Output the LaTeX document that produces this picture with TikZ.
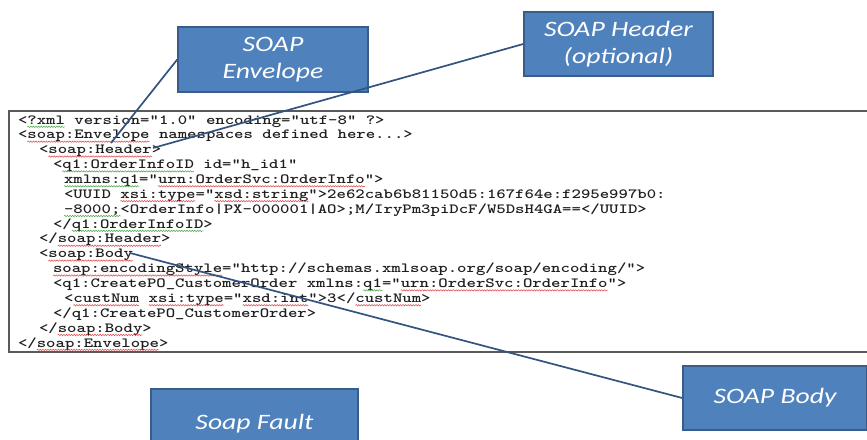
\documentclass[tikz,border=0pt]{standalone}
\usepackage{fontspec}
\usepackage{graphicx}
\usetikzlibrary{decorations.pathmorphing}
\newfontfamily\boxfont{Carlito}
\definecolor{boxfill}{RGB}{79,129,189}
\definecolor{boxedge}{RGB}{56,93,138}
\definecolor{linkcol}{RGB}{52,84,128}
\definecolor{frameedge}{RGB}{90,90,90}
\definecolor{sqr}{RGB}{225,70,70}
\definecolor{sqg}{RGB}{70,165,70}
\newcommand\cx[1]{\scalebox{1.279}[1]{#1}}
\newcommand\bx[1]{\scalebox{1.26}[1]{#1}}
\newcommand\codeln[4]{\node[codetxt] (#1) at (#2,{124+(#3-1)*14.87}) {\cx{#4}};}
\newcommand\squig[5]{\draw[#1] ({#2+#4*9.4},{126.8+(#3-1)*14.87}) -- ({#2+#5*9.4},{126.8+(#3-1)*14.87});}
\begin{document}
\begin{tikzpicture}[x=1pt,y=-1pt,
  codetxt/.style={anchor=base west, inner sep=0pt, outer sep=0pt,
    font=\ttfamily\bfseries\fontsize{14}{15}\selectfont, text=black!88},
  bluebox/.style={draw=boxedge, fill=boxfill, line width=1.5pt, text=white,
    font=\boxfont\itshape\fontsize{22}{27}\selectfont, align=center, inner sep=0pt},
  link/.style={draw=linkcol, line width=1.7pt},
  sqred/.style={draw=sqr, line width=0.5pt, decorate,
    decoration={snake, amplitude=0.7pt, segment length=2.6pt}},
  sqgreen/.style={sqred, draw=sqg}]
\useasboundingbox (0,0) rectangle (867,439);
\clip (0,0) rectangle (867,439);
\fill[white] (0,0) rectangle (867,439);

% code frame
\draw[frameedge, line width=1.4pt] (9,111) rectangle (885,352);

% code lines
\def\La{18}\def\Lb{39}\def\Lc{53}\def\Ld{64}
\codeln{c1}{\La}{1}{<?xml version="1.0" encoding="utf-8" ?>}
\codeln{c2}{\La}{2}{<soap:Envelope namespaces defined here...>}
\codeln{c3}{\Lb}{3}{<soap:Header>}
\codeln{c4}{\Lc}{4}{<q1:OrderInfoID id="h\_id1"}
\codeln{c5}{\Ld}{5}{xmlns:q1="urn:OrderSvc:OrderInfo">}
\codeln{c6}{\Ld}{6}{<UUID xsi:type="xsd:string">2e62cab6b81150d5:167f64e:f295e997b0:}
\codeln{c7}{\Ld}{7}{-8000;<OrderInfo|PX-000001|AO>;M/IryPm3piDcF/W5DsH4GA==</UUID>}
\codeln{c8}{\Lc}{8}{</q1:OrderInfoID>}
\codeln{c9}{\Lb}{9}{</soap:Header>}
\codeln{c10}{\Lb}{10}{<soap:Body}
\codeln{c11}{\Lc}{11}{soap:encodingStyle="http://schemas.xmlsoap.org/soap/encoding/">}
\codeln{c12}{\Lc}{12}{<q1:CreatePO\_CustomerOrder xmlns:q1="urn:OrderSvc:OrderInfo">}
\codeln{c13}{\Ld}{13}{<custNum xsi:type="xsd:int">3</custNum>}
\codeln{c14}{\Lc}{14}{</q1:CreatePO\_CustomerOrder>}
\codeln{c15}{\Lb}{15}{</soap:Body>}
\codeln{c16}{\La}{16}{</soap:Envelope>}

% spell-check squiggles
\squig{sqgreen}{\La}{1}{1}{5}
\squig{sqred}{\La}{2}{1}{14}
\squig{sqred}{\Lb}{3}{1}{12}
\squig{sqgreen}{\Lc}{4}{1}{15}
\squig{sqgreen}{\Ld}{5}{0}{8}
\squig{sqred}{\Ld}{5}{10}{32}
\squig{sqred}{\Ld}{6}{6}{14}
\squig{sqred}{\Ld}{6}{16}{26}
\squig{sqgreen}{\Ld}{7}{0}{6}
\squig{sqgreen}{\Lc}{8}{2}{16}
\squig{sqred}{\Lb}{9}{2}{13}
\squig{sqred}{\Lb}{10}{1}{10}
\squig{sqred}{\Lc}{11}{0}{18}
\squig{sqgreen}{\Lc}{12}{33}{35}
\squig{sqred}{\Lc}{12}{37}{59}
\squig{sqred}{\Ld}{13}{1}{8}
\squig{sqred}{\Ld}{13}{9}{17}
\squig{sqred}{\Ld}{13}{19}{26}
\squig{sqred}{\Ld}{13}{31}{38}
\squig{sqred}{\Lb}{15}{2}{11}
\squig{sqred}{\La}{16}{2}{15}

% label boxes
\node[bluebox, minimum width=190pt, minimum height=65pt] (env) at (273,59.5) {\bx{SOAP}\\\bx{Envelope}};
\node[bluebox, minimum width=189pt, minimum height=64pt] (hdr) at (618.5,44) {\bx{SOAP Header}\\\bx{(optional)}};
\node[bluebox, minimum width=207pt, minimum height=70pt] (fault) at (254.5,424) {\bx{Soap Fault}};
\node[bluebox, minimum width=184pt, minimum height=64pt] (body) at (775,398) {\bx{SOAP Body}};

% connectors
\coordinate (envtip) at (111,143);
\coordinate (hdrtip) at (153,148);
\coordinate (bodytip) at (130,253);
\draw[link] (env.west) -- (envtip);
\draw[link] (hdr.west) -- (hdrtip);
\draw[link] (bodytip) -- (body.west);
\end{tikzpicture}
\end{document}
